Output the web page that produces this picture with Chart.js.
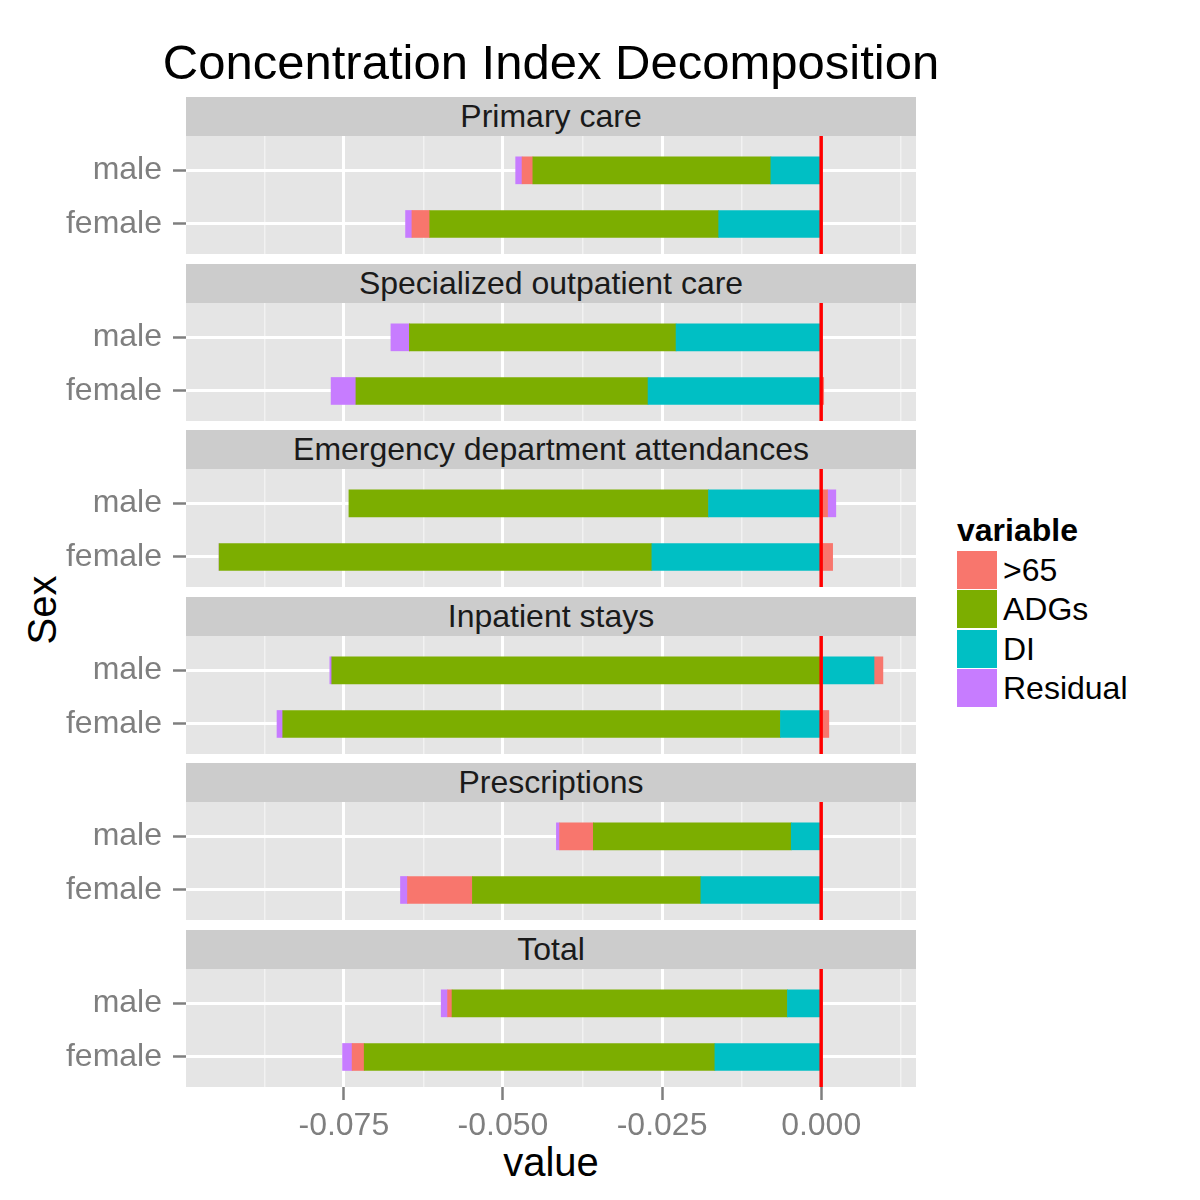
<!DOCTYPE html>
<html>
<head>
<meta charset="utf-8">
<script src="https://cdn.jsdelivr.net/npm/chart.js@4"></script>
<style>
  body { margin: 0; background: #fff; font-family: "Liberation Sans", Arial, sans-serif; }
  #page { position: relative; width: 1200px; height: 1200px; overflow: hidden; }
  .txt { position: absolute; white-space: nowrap; }
  .strip { position: absolute; left: 186px; width: 730px; height: 39px; background: #CCCCCC;
           color: #1A1A1A; font-size: 32px; line-height: 39px; text-align: center; }
  .key { position: absolute; left: 957px; width: 40px; height: 38px; }
  .keylab { position: absolute; left: 1003px; font-size: 32px; line-height: 39px; color: #000; }
</style>
</head>
<body>
<div id="page">
  <div class="txt" style="left:0;width:1102px;top:34px;text-align:center;font-size:49px;line-height:56px;">Concentration Index Decomposition</div>
  <div class="txt" style="left:0;width:1102px;top:1139px;text-align:center;font-size:40px;line-height:46px;">value</div>
  <div class="txt" style="left:42px;top:610px;font-size:40px;line-height:46px;transform:translate(-50%,-50%) rotate(-90deg);">Sex</div>
  <div class="txt" style="left:957px;top:511px;font-size:32px;line-height:38px;font-weight:bold;">variable</div>
</div>
<script>
// ----------------------
// DATA
// ----------------------
const facets = ["Primary care", "Specialized outpatient care", "Emergency department attendances",
                "Inpatient stays", "Prescriptions", "Total"];
const sexes = ["male", "female"];
const variables = [">65", "ADGs", "DI", "Residual"];
const colors = ["#F8766D", "#7CAE00", "#00BFC4", "#C77CFF"];

// one [male, female] pair per facet
const over65   = [[-0.0017, -0.0028], [0, 0.0004], [0.0010, 0.0018], [0.0014, 0.0012], [-0.0053, -0.0102], [-0.0007, -0.0019]];
const adgs     = [[-0.0374, -0.0454], [-0.0419, -0.0459], [-0.0565, -0.0680], [-0.0769, -0.0782], [-0.0311, -0.0359], [-0.0527, -0.0551]];
const di       = [[-0.0079, -0.0161], [-0.0228, -0.0272], [-0.0177, -0.0266], [0.0083, -0.0064], [-0.0047, -0.0189], [-0.0053, -0.0167]];
const residual = [[-0.0010, -0.0010], [-0.0029, -0.0039], [0.0013, 0], [-0.0003, -0.0009], [-0.0005, -0.0011], [-0.0010, -0.0015]];

const majorTicks = [-0.075, -0.05, -0.025, 0];
const minorTicks = [-0.0875, -0.0625, -0.0375, -0.0125, 0.0125];

const series = [over65, adgs, di, residual];
const stackOrder = [2, 1, 0, 3]; // DI sits next to zero, then ADGs, >65, Residual

// female at position 1 (bottom), male at position 2 (top)
const sexPos = j => sexes.length - j;

// ----------------------
// PLUGINS
// ----------------------
const panelBg = {
  id: "panelBg",
  beforeDraw(chart) {
    const { ctx, chartArea: a } = chart;
    ctx.save();
    ctx.fillStyle = "#E5E5E5";
    ctx.fillRect(a.left, a.top, a.right - a.left, a.bottom - a.top);
    ctx.restore();
  }
};

const zeroLine = {
  id: "zeroLine",
  afterDatasetsDraw(chart) {
    const { ctx, chartArea: a, scales } = chart;
    const x = scales.x.getPixelForValue(0);
    ctx.save();
    ctx.strokeStyle = "#FF0000";
    ctx.lineWidth = 3.5;
    ctx.beginPath();
    ctx.moveTo(x, a.top);
    ctx.lineTo(x, a.bottom);
    ctx.stroke();
    ctx.restore();
  }
};

// ----------------------
// PANELS
// ----------------------
const page = document.getElementById("page");
const PANEL_H = 118;
const AXIS_H = 82;

function makePanel(i, top, showAxis) {
  const canvas = document.createElement("canvas");
  canvas.width = 940;
  canvas.height = PANEL_H + (showAxis ? AXIS_H : 0);
  canvas.style.cssText = `position:absolute;left:0;top:${top}px;`;
  page.appendChild(canvas);

  const datasets = stackOrder.map(k => ({
    label: variables[k],
    data: sexes.map((s, j) => ({ x: series[k][i][j], y: sexPos(j) })),
    backgroundColor: colors[k],
    borderWidth: 0,
    barThickness: 27
  }));

  const isMajor = v => majorTicks.includes(v);
  const tickFont = { family: "Liberation Sans", size: 32 };

  new Chart(canvas, {
    type: "bar",
    data: { datasets },
    options: {
      indexAxis: "y",
      responsive: false,
      animation: false,
      layout: { padding: { left: 0, right: 24, top: 0, bottom: 0 } },
      plugins: { legend: { display: false }, tooltip: { enabled: false } },
      scales: {
        x: {
          type: "linear",
          stacked: true,
          min: -0.0998,
          max: 0.0149,
          border: { display: false },
          afterBuildTicks: s => {
            s.ticks = minorTicks.concat(majorTicks).sort((a, b) => a - b).map(v => ({ value: v }));
          },
          afterFit: s => {
            s.height = showAxis ? AXIS_H : 0;
            s.paddingLeft = 0; s.paddingRight = 0;
          },
          grid: {
            color: c => isMajor(c.tick.value) ? "#FFFFFF" : "#F2F2F2",
            lineWidth: c => isMajor(c.tick.value) ? 3 : 1.5,
            drawTicks: showAxis,
            tickLength: 13,
            tickWidth: 2.5,
            tickColor: c => isMajor(c.tick.value) ? "#7F7F7F" : "rgba(0,0,0,0)"
          },
          ticks: {
            display: showAxis,
            autoSkip: false,
            maxRotation: 0,
            padding: 7,
            color: "#7F7F7F",
            font: tickFont,
            callback: v => isMajor(v) ? v.toFixed(3) : ""
          }
        },
        y: {
          type: "linear",
          stacked: true,
          offset: false,
          bounds: "data",
          min: 0.44,
          max: 2.64,
          border: { display: false },
          afterBuildTicks: s => {
            s.ticks = sexes.map((_, j) => ({ value: sexPos(j) })).sort((a, b) => a.value - b.value);
          },
          afterFit: s => {
            s.width = 186;
            s.paddingTop = 0; s.paddingBottom = 0;
          },
          grid: {
            offset: false,
            color: "#FFFFFF",
            lineWidth: 3,
            tickLength: 13,
            tickWidth: 2.5,
            tickColor: "#7F7F7F"
          },
          ticks: {
            padding: 11,
            color: "#7F7F7F",
            font: tickFont,
            callback: v => sexes[sexes.length - v]
          }
        }
      }
    },
    plugins: [panelBg, zeroLine]
  });
}

facets.forEach((name, i) => {
  const stripTop = Math.round(97 + i * 166.6);
  const strip = document.createElement("div");
  strip.className = "strip";
  strip.style.top = stripTop + "px";
  strip.textContent = name;
  page.appendChild(strip);
  makePanel(i, stripTop + 39, i === facets.length - 1);
});

// ----------------------
// LEGEND
// ----------------------
variables.forEach((v, k) => {
  const top = 551 + k * 39.3;
  const key = document.createElement("div");
  key.className = "key";
  key.style.top = top + "px";
  key.style.background = colors[k];
  page.appendChild(key);
  const lab = document.createElement("div");
  lab.className = "keylab";
  lab.style.top = top + "px";
  lab.textContent = v;
  page.appendChild(lab);
});
</script>
</body>
</html>
